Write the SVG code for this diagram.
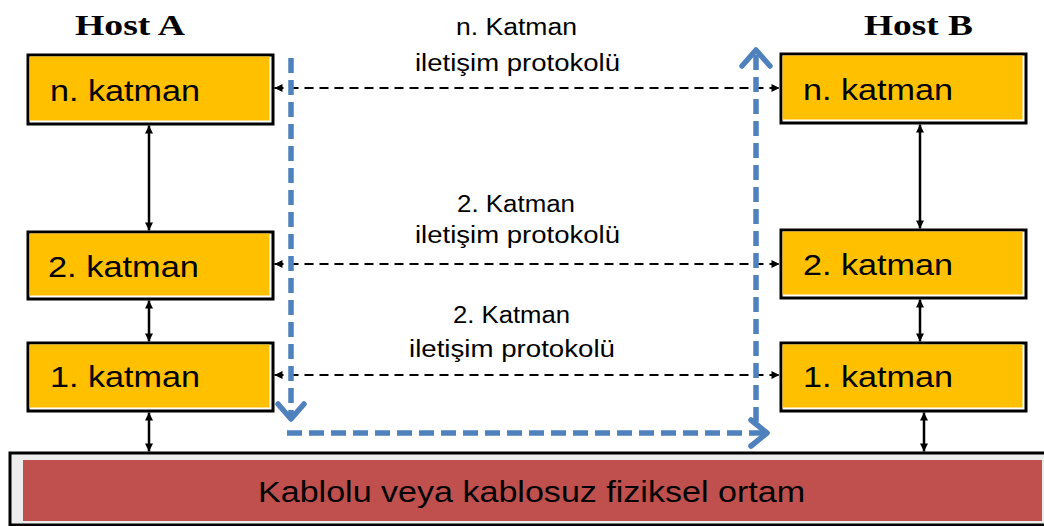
<svg xmlns="http://www.w3.org/2000/svg" width="1044" height="526" viewBox="0 0 1044 526">
  <style>
    .box-out { fill: #ffffff; stroke: #000000; stroke-width: 3; }
    .box-in { fill: #FFC000; }
    .lbl { font-family: "Liberation Sans", Arial, sans-serif; font-size: 29px; fill: #000000; }
    .host { font-family: "Liberation Serif", "Times New Roman", serif; font-size: 30px; font-weight: bold; fill: #000000; }
    .mid { font-family: "Liberation Sans", Arial, sans-serif; font-size: 23px; fill: #000000; }
    .solid { stroke: #000000; stroke-width: 2.5; fill: none; }
    .dash { stroke: #000000; stroke-width: 2.2; fill: none; stroke-dasharray: 9 6; }
    .blue { stroke: #4F81BD; stroke-width: 5.5; fill: none; stroke-dasharray: 15 7; }
    .chev { stroke: #4F81BD; stroke-width: 5.5; fill: none; stroke-linecap: round; stroke-linejoin: round; }
  </style>
  <defs>
    <marker id="ah" viewBox="0 0 10 10" refX="10" refY="5" markerWidth="9" markerHeight="8" markerUnits="userSpaceOnUse" orient="auto-start-reverse">
      <path d="M0,0 L10,5 L0,10 z" fill="#000000"/>
    </marker>
  </defs>
  <rect width="1044" height="526" fill="#ffffff"/>

  <text class="host" x="75" y="35" textLength="110" lengthAdjust="spacingAndGlyphs">Host A</text>
  <text class="host" x="864" y="35" textLength="109" lengthAdjust="spacingAndGlyphs">Host B</text>

  <g id="medium">
    <rect x="10" y="453" width="1040" height="72" fill="#ededed" stroke="#000000" stroke-width="3"/>
    <rect x="23" y="460" width="1019" height="61" fill="#C0504D"/>
    <text class="lbl" x="258" y="502" textLength="547" lengthAdjust="spacingAndGlyphs">Kablolu veya kablosuz fiziksel ortam</text>
  </g>

  <g id="a-n">
    <rect class="box-out" x="28" y="55" width="245" height="69"/>
    <rect class="box-in" x="29.5" y="56.5" width="240" height="64"/>
    <text class="lbl" x="50" y="101" textLength="150" lengthAdjust="spacingAndGlyphs">n. katman</text>
  </g>
  <g id="a-2">
    <rect class="box-out" x="28" y="232" width="245" height="67"/>
    <rect class="box-in" x="29.5" y="233.5" width="240" height="62"/>
    <text class="lbl" x="48" y="277" textLength="151" lengthAdjust="spacingAndGlyphs">2. katman</text>
  </g>
  <g id="a-1">
    <rect class="box-out" x="28" y="343" width="245" height="68"/>
    <rect class="box-in" x="29.5" y="344.5" width="240" height="63"/>
    <text class="lbl" x="50" y="387" textLength="150" lengthAdjust="spacingAndGlyphs">1. katman</text>
  </g>

  <g id="b-n">
    <rect class="box-out" x="781" y="54" width="245" height="69"/>
    <rect class="box-in" x="782.5" y="55.5" width="240" height="64"/>
    <text class="lbl" x="803" y="100" textLength="150" lengthAdjust="spacingAndGlyphs">n. katman</text>
  </g>
  <g id="b-2">
    <rect class="box-out" x="781" y="230" width="245" height="68"/>
    <rect class="box-in" x="782.5" y="231.5" width="240" height="63"/>
    <text class="lbl" x="803" y="275" textLength="150" lengthAdjust="spacingAndGlyphs">2. katman</text>
  </g>
  <g id="b-1">
    <rect class="box-out" x="781" y="343" width="245" height="68"/>
    <rect class="box-in" x="782.5" y="344.5" width="240" height="63"/>
    <text class="lbl" x="803" y="387" textLength="150" lengthAdjust="spacingAndGlyphs">1. katman</text>
  </g>

  <g id="labels">
    <text class="mid" x="456" y="35" textLength="121" lengthAdjust="spacingAndGlyphs">n. Katman</text>
    <text class="mid" x="415" y="71" textLength="205" lengthAdjust="spacingAndGlyphs">iletişim protokolü</text>
    <text class="mid" x="457" y="212" textLength="118" lengthAdjust="spacingAndGlyphs">2. Katman</text>
    <text class="mid" x="415" y="243" textLength="205" lengthAdjust="spacingAndGlyphs">iletişim protokolü</text>
    <text class="mid" x="453" y="323" textLength="117" lengthAdjust="spacingAndGlyphs">2. Katman</text>
    <text class="mid" x="409" y="357" textLength="206" lengthAdjust="spacingAndGlyphs">iletişim protokolü</text>
  </g>

  <g id="connectors">
    <line class="solid" x1="149" y1="125.5" x2="149" y2="230.5" marker-start="url(#ah)" marker-end="url(#ah)"/>
    <line class="solid" x1="149" y1="300.5" x2="149" y2="341.5" marker-start="url(#ah)" marker-end="url(#ah)"/>
    <line class="solid" x1="149" y1="412.5" x2="149" y2="451.5" marker-start="url(#ah)" marker-end="url(#ah)"/>
    <line class="solid" x1="920" y1="124.5" x2="920" y2="228.5" marker-start="url(#ah)" marker-end="url(#ah)"/>
    <line class="solid" x1="920" y1="299.5" x2="920" y2="341.5" marker-start="url(#ah)" marker-end="url(#ah)"/>
    <line class="solid" x1="924" y1="412.5" x2="924" y2="451.5" marker-start="url(#ah)" marker-end="url(#ah)"/>

    <line class="dash" x1="274.5" y1="88" x2="779.5" y2="88" marker-start="url(#ah)" marker-end="url(#ah)"/>
    <line class="dash" x1="274.5" y1="264" x2="779.5" y2="264" marker-start="url(#ah)" marker-end="url(#ah)"/>
    <line class="dash" x1="274.5" y1="375" x2="779.5" y2="375" marker-start="url(#ah)" marker-end="url(#ah)"/>

    <line class="blue" x1="291" y1="58" x2="291" y2="418"/>
    <polyline class="chev" points="278,404 291,419 304,404"/>
    <line class="blue" x1="287" y1="433" x2="764" y2="433"/>
    <polyline class="chev" points="751,420 767,433 751,446"/>
    <line class="blue" x1="756" y1="422" x2="756" y2="54"/>
    <polyline class="chev" points="742,66 756,50 770,66"/>
  </g>
</svg>
